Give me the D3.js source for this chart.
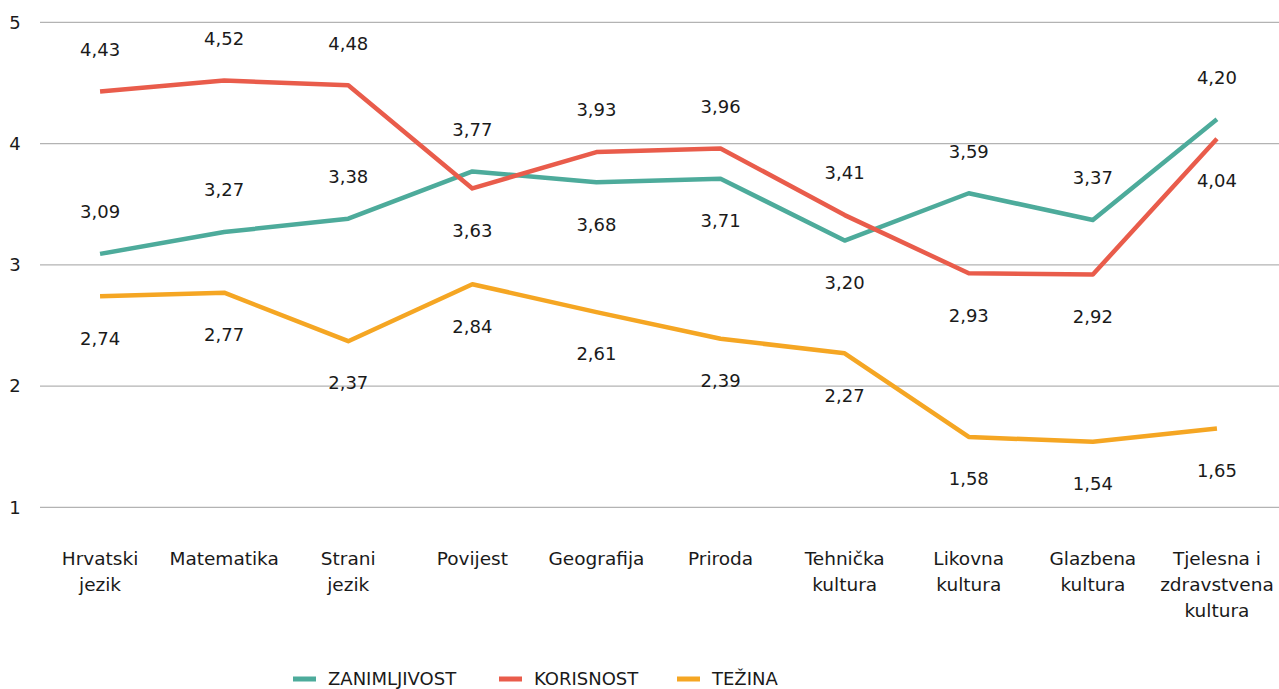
<!DOCTYPE html>
<html>
<head>
<meta charset="utf-8">
<script src="https://cdn.jsdelivr.net/npm/d3@7"></script>
<style>
  body { margin: 0; background: #fff; }
  svg text { font-family: "DejaVu Sans", sans-serif; fill: #1a1a1a; }
</style>
</head>
<body>
<svg width="1279" height="689"></svg>
<script>
// predmeti
var categories = [
  ['Hrvatski', 'jezik'],
  ['Matematika'],
  ['Strani', 'jezik'],
  ['Povijest'],
  ['Geografija'],
  ['Priroda'],
  ['Tehnička', 'kultura'],
  ['Likovna', 'kultura'],
  ['Glazbena', 'kultura'],
  ['Tjelesna i', 'zdravstvena', 'kultura']
]

var zanimljivost = [3.09, 3.27, 3.38, 3.77, 3.68, 3.71, 3.20, 3.59, 3.37, 4.20]
var korisnost = [4.43, 4.52, 4.48, 3.63, 3.93, 3.96, 3.41, 2.93, 2.92, 4.04]
var tezina = [2.74, 2.77, 2.37, 2.84, 2.61, 2.39, 2.27, 1.58, 1.54, 1.65]

// gdje ide oznaka: 1 = iznad, -1 = ispod
var zanSide = [1, 1, 1, 1, -1, -1, -1, 1, 1, 1]
var korSide = [1, 1, 1, -1, 1, 1, 1, -1, -1, -1]
var tezSide = [-1, -1, -1, -1, -1, -1, -1, -1, -1, -1]

var yTicks = [1, 2, 3, 4, 5]

var series = [
  {name: 'ZANIMLJIVOST', values: zanimljivost, side: zanSide, color: '#4dab9b'},
  {name: 'KORISNOST', values: korisnost, side: korSide, color: '#e95c4b'},
  {name: 'TEŽINA', values: tezina, side: tezSide, color: '#f5a623'}
]

var svg = d3.select('svg')

var x = d3.scaleBand()
  .domain(d3.range(categories.length))
  .range([38, 1279])

var y = d3.scaleLinear()
  .domain([1, 5])
  .range([507.3, 22.3])

// mreza
svg.append('g')
  .selectAll('line')
  .data(yTicks)
  .enter()
  .append('line')
  .attr('x1', 40)
  .attr('x2', 1279)
  .attr('y1', function(d){ return y(d) })
  .attr('y2', function(d){ return y(d) })
  .attr('stroke', '#b3b3b3')
  .attr('stroke-width', 1.3)

svg.append('g')
  .selectAll('text')
  .data(yTicks)
  .enter()
  .append('text')
  .attr('x', 15)
  .attr('y', function(d){ return y(d) })
  .attr('dy', '0.35em')
  .attr('text-anchor', 'middle')
  .style('font-size', '18px')
  .text(function(d){ return d })

// kategorije
var cat = svg.append('g')
  .selectAll('text')
  .data(categories)
  .enter()
  .append('text')
  .attr('text-anchor', 'middle')
  .style('font-size', '18.5px')

cat.selectAll('tspan')
  .data(function(d, i){ return d.map(function(t){ return {t: t, i: i} }) })
  .enter()
  .append('tspan')
  .attr('x', function(d){ return x(d.i) + x.bandwidth() / 2 })
  .attr('y', function(d, j){ return 565 + j * 26 })
  .text(function(d){ return d.t })

var line = d3.line()
  .x(function(d, i){ return x(i) + x.bandwidth() / 2 })
  .y(function(d){ return y(d) })

series.forEach(function(s){
  svg.append('path')
    .attr('d', line(s.values))
    .attr('fill', 'none')
    .attr('stroke', s.color)
    .attr('stroke-width', 4.5)
    .attr('stroke-linejoin', 'round')
})

var fmt = function(v){ return d3.format('.2f')(v).replace('.', ',') }

series.forEach(function(s){
  svg.append('g')
    .selectAll('text')
    .data(s.values)
    .enter()
    .append('text')
    .attr('x', function(d, i){ return x(i) + x.bandwidth() / 2 })
    .attr('y', function(d, i){ return y(d) - s.side[i] * 42 })
    .attr('dy', '0.35em')
    .attr('text-anchor', 'middle')
    .style('font-size', '18px')
    .text(fmt)
})

// legenda
var legendX = [293, 499, 677]
var leg = svg.append('g')
  .selectAll('g')
  .data(series)
  .enter()
  .append('g')
  .attr('transform', function(d, i){ return 'translate(' + legendX[i] + ',679)' })

leg.append('rect')
  .attr('x', 0)
  .attr('y', -2.5)
  .attr('width', 23)
  .attr('height', 5)
  .attr('fill', function(d){ return d.color })

leg.append('text')
  .attr('x', 35)
  .attr('dy', '0.35em')
  .style('font-size', '18px')
  .text(function(d){ return d.name })
</script>
</body>
</html>
